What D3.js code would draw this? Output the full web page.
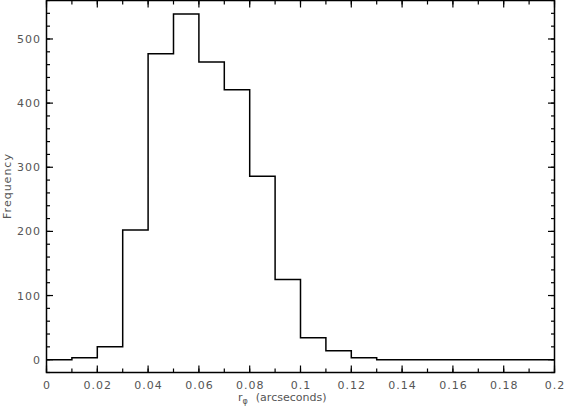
<!DOCTYPE html>
<html>
<head>
<meta charset="utf-8">
<script src="https://cdn.jsdelivr.net/npm/d3@7"></script>
<style>
  body { margin: 0; background: #fff; }
  text { font-family: "DejaVu Sans", sans-serif; font-size: 11px; fill: #555; }
  .tl { letter-spacing: 1px; }
</style>
</head>
<body>
<div id="chart"></div>
<script>
var vWidth = 564;
var vHeight = 407;

// bin edges (lower edge of each 0.01 wide bin) and counts
var binStarts = [0, 0.01, 0.02, 0.03, 0.04, 0.05, 0.06, 0.07, 0.08, 0.09,
                 0.1, 0.11, 0.12, 0.13, 0.14, 0.15, 0.16, 0.17, 0.18, 0.19];
var counts = [0, 3, 20, 202, 477, 539, 464, 421, 286, 125,
              34, 14, 3, 0, 0, 0, 0, 0, 0, 0];
var binWidth = 0.01;

var xTicks = [0, 0.02, 0.04, 0.06, 0.08, 0.1, 0.12, 0.14, 0.16, 0.18, 0.2];
var yTicks = [0, 100, 200, 300, 400, 500];

// plot box (window.top is reserved, so use p* names)
var pLeft = 46.5, pRight = 554.5, pTop = 0.5, pBottom = 372.5;

var x = d3.scaleLinear().domain([0, 0.2]).range([pLeft, pRight]);
var y = d3.scaleLinear().domain([-20, 560]).range([pBottom, pTop]);

var svg = d3.select("#chart")
    .append("svg")
        .attr("width", vWidth)
        .attr("height", vHeight);

// minor + major ticks, drawn inward on all four sides
var xMinor = d3.range(0, 0.2001, 0.01);
var yMinor = d3.range(-20, 561, 20);

function drawTicks(sel, vals, len, side) {
    sel.selectAll(null)
        .data(vals)
        .enter().append("line")
            .attr("stroke", "#000")
            .attr("stroke-width", 1.2)
            .attr("x1", function (d) { return side === "left" ? pLeft : side === "right" ? pRight : x(d); })
            .attr("x2", function (d) { return side === "left" ? pLeft + len : side === "right" ? pRight - len : x(d); })
            .attr("y1", function (d) { return side === "bottom" ? pBottom : side === "top" ? pTop : y(d); })
            .attr("y2", function (d) { return side === "bottom" ? pBottom - len : side === "top" ? pTop + len : y(d); });
}

var gt = svg.append("g");
drawTicks(gt, xMinor, 4, "bottom");
drawTicks(gt, xMinor, 4, "top");
drawTicks(gt, xTicks, 7, "bottom");
drawTicks(gt, xTicks, 7, "top");
drawTicks(gt, yMinor, 3.5, "left");
drawTicks(gt, yMinor, 3.5, "right");
drawTicks(gt, yTicks, 6.5, "left");
drawTicks(gt, yTicks, 6.5, "right");

// frame
svg.append("rect")
    .attr("x", pLeft)
    .attr("y", pTop)
    .attr("width", pRight - pLeft)
    .attr("height", pBottom - pTop)
    .attr("fill", "none")
    .attr("stroke", "#000")
    .attr("stroke-width", 1.5);

// step outline of the histogram
var pts = [];
binStarts.forEach(function (b, i) {
    pts.push([x(b), y(counts[i])]);
    pts.push([x(b + binWidth), y(counts[i])]);
});
svg.append("path")
    .attr("d", d3.line()(pts))
    .attr("fill", "none")
    .attr("stroke", "#000")
    .attr("stroke-width", 1.5);

// tick labels
svg.selectAll(".xl")
    .data(xTicks)
    .enter().append("text")
        .attr("class", "tl")
        .attr("x", function (d) { return x(d) + 0.5; })
        .attr("y", 389)
        .attr("text-anchor", "middle")
        .text(function (d) { return d; });

svg.selectAll(".yl")
    .data(yTicks)
    .enter().append("text")
        .attr("class", "tl")
        .attr("x", 41)
        .attr("y", function (d) { return y(d) + 4; })
        .attr("text-anchor", "end")
        .text(function (d) { return d; });

// axis titles
var xt = svg.append("text")
    .attr("x", 238)
    .attr("y", 401);
xt.append("tspan").text("r");
xt.append("tspan").attr("font-size", "8px").attr("dy", 3).text("\u03c6");
xt.append("tspan").attr("dy", -3).attr("dx", 8).text("(arcseconds)");

svg.append("text")
    .attr("class", "tl")
    .attr("transform", "translate(11,186) rotate(-90)")
    .attr("text-anchor", "middle")
    .text("Frequency");
</script>
</body>
</html>
